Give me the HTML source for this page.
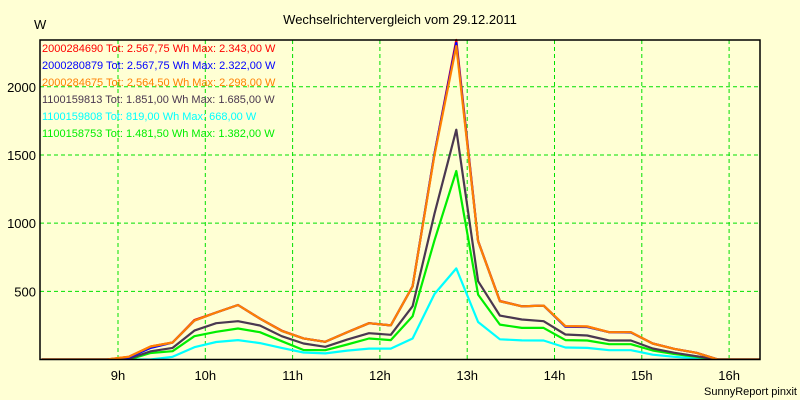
<!DOCTYPE html>
<html><head><meta charset="utf-8"><style>
body{margin:0;background:#ffffd4;}
svg{display:block;font-family:"Liberation Sans",Arial,sans-serif;}
</style></head><body>
<svg id="chart" width="800" height="400" viewBox="0 0 800 400">
<rect x="0" y="0" width="800" height="400" fill="#ffffd4"/>
<text x="400" y="24" text-anchor="middle" font-size="13" fill="#000">Wechselrichtervergleich vom 29.12.2011</text>
<text x="34" y="29" font-size="13" fill="#000">W</text>
<text x="797" y="395" text-anchor="end" font-size="11" fill="#000">SunnyReport pinxit</text>
<g id="grid"></g>
<g id="ticks"></g>
<g id="series"></g>
<rect x="40" y="40" width="720" height="319.5" fill="none" stroke="#000" stroke-width="1.5"/>
<g id="legend"></g>
</svg>
<script>
const times = [8.125,8.375,8.625,8.875,9.125,9.375,9.625,9.875,10.125,10.375,10.625,10.875,11.125,11.375,11.625,11.875,12.125,12.375,12.625,12.875,13.125,13.375,13.625,13.875,14.125,14.375,14.625,14.875,15.125,15.375,15.625,15.875,16.125,16.375];
const redVals    = [0,0,0,0,20,95,125,290,345,400,300,212,155,130,200,266,250,537,1510,2343,870,430,390,395,244,242,200,200,117,78,49,0,0,0];
const blueVals   = [0,0,0,0,15,85,125,285,345,400,300,210,155,130,200,266,250,537,1510,2322,867,427,390,395,240,238,200,198,117,78,49,0,0,0];
const orangeVals = [0,0,0,0,20,95,125,285,345,400,300,210,155,130,200,266,250,537,1500,2298,867,427,390,395,244,242,200,200,117,78,49,0,0,0];
const darkVals   = [0,0,0,0,5,60,85,212,266,281,249,171,117,93,146,193,181,391,1070,1685,574,322,293,281,183,176,139,139,81,49,24,0,0,0];
const cyanVals   = [0,0,0,0,0,0,20,90,128,142,120,85,51,45,65,80,80,154,480,668,275,148,140,139,88,85,68,68,35,20,8,0,0,0];
const greenVals  = [0,0,0,0,0,48,61,171,203,227,200,134,70,68,110,154,142,317,874,1382,476,256,232,232,142,139,112,112,66,40,20,0,0,0];
const hourTicks = [9,10,11,12,13,14,15,16];
const hourLabels = ["9h","10h","11h","12h","13h","14h","15h","16h"];
const wTicks = [500,1000,1500,2000];
const legendLabels = [
 "2000284690 Tot: 2.567,75 Wh Max: 2.343,00 W",
 "2000280879 Tot: 2.567,75 Wh Max: 2.322,00 W",
 "2000284675 Tot: 2.564,50 Wh Max: 2.298,00 W",
 "1100159813 Tot: 1.851,00 Wh Max: 1.685,00 W",
 "1100159808 Tot: 819,00 Wh Max: 668,00 W",
 "1100158753 Tot: 1.481,50 Wh Max: 1.382,00 W"];

const NS="http://www.w3.org/2000/svg";
const X0=40,X1=760,Y0=359.5,Y1=40,YMAX=2343;
function xs(h){return 118+(h-9)*87.3;}
function ys(v){return Y0-(v/YMAX)*(Y0-Y1);}
function mk(tag,attrs,parent){const e=document.createElementNS(NS,tag);for(const k in attrs)e.setAttribute(k,attrs[k]);parent.appendChild(e);return e;}

const grid=document.getElementById('grid'),ticks=document.getElementById('ticks');
hourTicks.forEach((h,i)=>{
  const l=mk('line',{x1:xs(h),x2:xs(h),y1:Y1,y2:Y0,stroke:'#00e000','stroke-dasharray':'4,3','stroke-width':1},grid);
  
  
  const t=mk('text',{x:xs(h),y:380,'text-anchor':'middle','font-size':13,fill:'#000'},ticks);
  t.textContent=hourLabels[i];
  
  
});
wTicks.forEach(v=>{
  const l=mk('line',{x1:X0,x2:X1,y1:ys(v),y2:ys(v),stroke:'#00e000','stroke-dasharray':'4,3','stroke-width':1},grid);
  
  
  const t=mk('text',{x:36,y:ys(v)+5,'text-anchor':'end','font-size':13,fill:'#000'},ticks);
  t.textContent=String(v);
  
  
});

const seriesList=[
 {vals:redVals,color:'#ff0000',name:'series-2000284690'},
 {vals:blueVals,color:'#0000ff',name:'series-2000280879'},
 {vals:orangeVals,color:'#ff8000',name:'series-2000284675'},
 {vals:darkVals,color:'#4a3850',name:'series-1100159813'},
 {vals:cyanVals,color:'#00ffff',name:'series-1100159808'},
 {vals:greenVals,color:'#00ee00',name:'series-1100158753'}];
const sg=document.getElementById('series');
const cp=mk('clipPath',{id:'clipPlot'},mk('defs',{},sg));
mk('rect',{x:X0,y:Y1-2,width:X1-X0,height:Y0-Y1+2},cp);
const drawOrder=[4,5,3,0,1,2];
drawOrder.forEach(i=>{
  const s=seriesList[i];
  const pts=times.map((t,j)=>xs(t).toFixed(1)+','+ys(s.vals[j]).toFixed(1)).join(' ');
  const p=mk('polyline',{points:pts,fill:'none',stroke:s.color,'stroke-width':2.2,'stroke-linejoin':'round','clip-path':'url(#clipPlot)'},sg);
  
  
});

const lg=document.getElementById('legend');
legendLabels.forEach((txt,i)=>{
  const t=mk('text',{x:42,y:52+i*17,'font-size':11,fill:seriesList[i].color},lg);
  t.textContent=txt;
  
  
});
</script>
</body></html>
